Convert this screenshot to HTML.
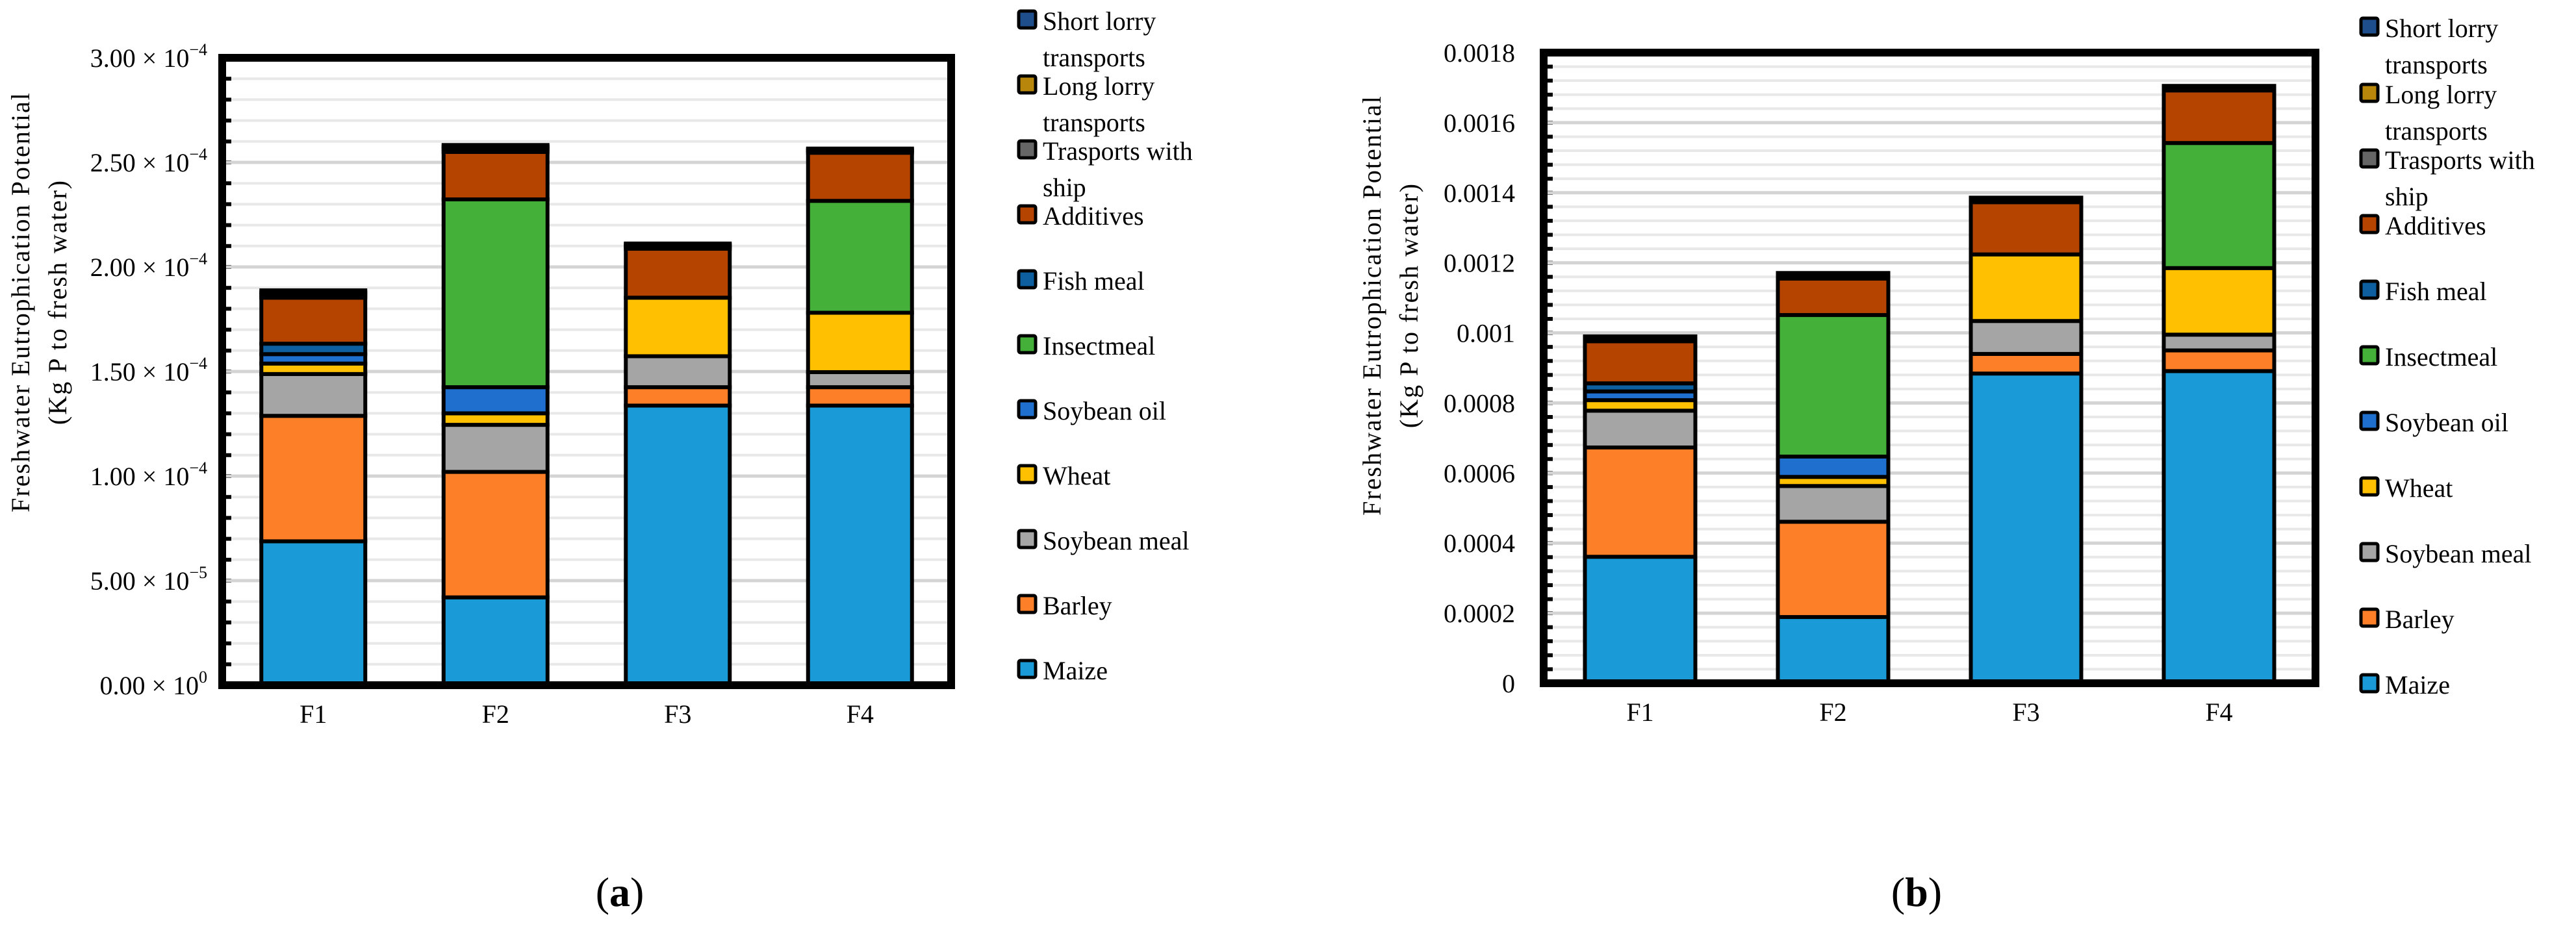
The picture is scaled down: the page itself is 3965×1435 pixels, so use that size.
<!DOCTYPE html>
<html><head><meta charset="utf-8"><style>
html,body{margin:0;padding:0;background:#fff}
svg{display:block}
svg text{font-family:"Liberation Serif",serif}
</style></head><body>
<svg id="root" width="3965" height="1435" viewBox="0 0 3965 1435" xmlns="http://www.w3.org/2000/svg" font-family="Liberation Serif, serif">
<rect width="3965" height="1435" fill="#fff"/>
<g id="chartA"></g>
<g id="chartB"></g>
<text x="954" y="1395" font-size="64" text-anchor="middle" font-family="Liberation Serif, serif">(<tspan font-weight="bold">a</tspan>)</text>
<text x="2950" y="1395" font-size="64" text-anchor="middle" font-family="Liberation Serif, serif">(<tspan font-weight="bold">b</tspan>)</text>
</svg>
<script>
const categories = ["F1","F2","F3","F4"];
const seriesNames = ["Maize","Barley","Soybean meal","Wheat","Soybean oil","Fish meal","Insectmeal","Additives","Trasports with ship","Long lorry transports","Short lorry transports"];
const seriesColors = ["#1a9bd7","#fd7f28","#a5a5a5","#fec000","#1f6fce","#0d5fa0","#44b03a","#b54400","#666666","#b8860b","#1f4e8c"];
// chart a values (per series, F1..F4)
const aMaize   = [6.88e-5, 4.2e-5, 1.337e-4, 1.337e-4];
const aBarley  = [6.0e-5, 6.0e-5, 8.8e-6, 8.8e-6];
const aSoyMeal = [2.0e-5, 2.25e-5, 1.48e-5, 7.2e-6];
const aWheat   = [5.0e-6, 5.5e-6, 2.8e-5, 2.84e-5];
const aSoyOil  = [4.5e-6, 1.25e-5, 0, 0];
const aFish    = [5.0e-6, 0, 0, 0];
const aInsect  = [0, 8.98e-5, 0, 5.35e-5];
const aAdd     = [2.2e-5, 2.27e-5, 2.34e-5, 2.3e-5];
const aShip    = [1.5e-6, 1.5e-6, 1.0e-6, 1.0e-6];
const aLong    = [1.0e-6, 1.0e-6, 0.8e-6, 0.5e-6];
const aShort   = [1.0e-6, 0.8e-6, 0.7e-6, 0.5e-6];
const aTicks   = [0,5e-5,1e-4,1.5e-4,2e-4,2.5e-4,3e-4];
const aTickMant = ["0.00","5.00","1.00","1.50","2.00","2.50","3.00"];
const aTickExp  = ["0","−5","−4","−4","−4","−4","−4"];
// chart b values
const bMaize   = [0.000361, 0.000189, 0.000884, 0.000891];
const bBarley  = [0.000312, 0.000272, 0.000056, 0.000059];
const bSoyMeal = [0.000105, 0.000102, 0.000094, 0.000045];
const bWheat   = [0.00003, 0.000026, 0.00019, 0.00019];
const bSoyOil  = [0.000025, 0.000058, 0, 0];
const bFish    = [0.000023, 0, 0, 0];
const bInsect  = [0, 0.000404, 0, 0.000357];
const bAdd     = [0.00012, 0.000104, 0.000149, 0.00015];
const bShip    = [0.000006, 0.000007, 0.000005, 0.000005];
const bLong    = [0.000004, 0.000005, 0.000004, 0.000004];
const bShort   = [0.000004, 0.000004, 0.000004, 0.000004];
const bTicks   = [0,0.0002,0.0004,0.0006,0.0008,0.001,0.0012,0.0014,0.0016,0.0018];
const bTickLabels = ["0","0.0002","0.0004","0.0006","0.0008","0.001","0.0012","0.0014","0.0016","0.0018"];
// legend order top to bottom: [series index, lines]
const legendOrder = [10,9,8,7,5,6,4,3,2,1,0];
const legendLines = [["Short lorry","transports"],["Long lorry","transports"],["Trasports with","ship"],["Additives"],["Fish meal"],["Insectmeal"],["Soybean oil"],["Wheat"],["Soybean meal"],["Barley"],["Maize"]];

const NS="http://www.w3.org/2000/svg";
const FF="Liberation Serif, serif";
function mk(parent,tag,attrs){const e=document.createElementNS(NS,tag);for(const k in attrs)e.setAttribute(k,attrs[k]);parent.appendChild(e);return e;}

function drawChart(g,cfg){
  const {L,R,T,B,max,minorStep,series,ticks,barW,tickX,legX,legY,ylabX,ylabY}=cfg;
  const y=v=>B-(v/max)*(B-T);
  const band=(R-L)/categories.length;
  const xc=i=>L+band*(i+0.5);
  const n=Math.round(max/minorStep);
  for(let k=1;k<n;k++){
    const v=k*minorStep;
    const gl=mk(g,"line",{x1:L,x2:R,y1:y(v),y2:y(v),stroke:"#e8e8e8","stroke-width":4});
    
    
    const tk=mk(g,"line",{x1:L,x2:L+14,y1:y(v),y2:y(v),stroke:"#000","stroke-width":6});
    
    
  }
  ticks.forEach(v=>{
    if(v>0&&v<max){
      const gl=mk(g,"line",{x1:L,x2:R,y1:y(v),y2:y(v),stroke:"#d4d4d4","stroke-width":5});
      
      
    }
  });
  categories.forEach((c,i)=>{
    let acc=0;
    series.forEach((s,j)=>{
      const v=s[i]; if(v<=0) return;
      const y0=y(acc), y1=y(acc+v);
      const r=mk(g,"rect",{x:xc(i)-barW/2,y:y1,width:barW,height:Math.max(y0-y1,0.5),fill:seriesColors[j],stroke:"#000","stroke-width":6});
      
      
      acc+=v;
    });
    const t=mk(g,"text",{x:xc(i),y:B+58,"font-size":40,"text-anchor":"middle","font-family":FF});
    t.textContent=c;
    
    
  });
  const fr=mk(g,"rect",{x:L,y:T,width:R-L,height:B-T,fill:"none",stroke:"#000","stroke-width":12});
  
  
  ticks.forEach((v,k)=>{
    const t=mk(g,"text",{x:tickX,y:y(v)+14,"font-size":40,"text-anchor":"end","font-family":FF});
    
    
    cfg.tickLabel(t,k);
  });
  const yl=mk(g,"text",{transform:`translate(${ylabX},${ylabY}) rotate(-90)`,"font-size":40,"text-anchor":"middle","letter-spacing":"2","font-family":FF});
  
  
  const l1=mk(yl,"tspan",{x:0,y:0}); l1.textContent="Freshwater Eutrophication Potential";
  const l2=mk(yl,"tspan",{x:0,y:57}); l2.textContent="(Kg P to fresh water)";
  legendLines.forEach((ln,k)=>{
    const j=legendOrder[k];
    const yy=legY[k];
    const sq=mk(g,"rect",{x:legX,y:yy-29,width:26,height:26,fill:seriesColors[j],stroke:"#000","stroke-width":5,rx:3});
    
    
    const t=mk(g,"text",{x:legX+37,y:yy,"font-size":40,"font-family":FF});
    
    
    ln.forEach((s,m)=>{const ts=mk(t,"tspan",{x:legX+37,y:yy+m*56});ts.textContent=s;});
  });
}

drawChart(document.getElementById("chartA"),{
  L:342,R:1464,T:89,B:1055,max:3e-4,minorStep:1e-5,barW:160,tickX:319,
  series:[aMaize,aBarley,aSoyMeal,aWheat,aSoyOil,aFish,aInsect,aAdd,aShip,aLong,aShort],
  ticks:aTicks,legX:1568,legY:[46,146,246,346,446,546,646,746,846,946,1046],ylabX:45,ylabY:465,
  tickLabel:(t,k)=>{t.textContent=aTickMant[k]+" × 10";const s=mk(t,"tspan",{dy:-18,"font-size":26});s.textContent=aTickExp[k];}
});
drawChart(document.getElementById("chartB"),{
  L:2376,R:3564,T:81,B:1052,max:0.0018,minorStep:0.00004,barW:170,tickX:2332,
  series:[bMaize,bBarley,bSoyMeal,bWheat,bSoyOil,bFish,bInsect,bAdd,bShip,bLong,bShort],
  ticks:bTicks,legX:3634,legY:[57,159,260,361,462,563,664,765,866,967,1068],ylabX:2125,ylabY:470,
  tickLabel:(t,k)=>{t.textContent=bTickLabels[k];}
});
</script>
</body></html>
